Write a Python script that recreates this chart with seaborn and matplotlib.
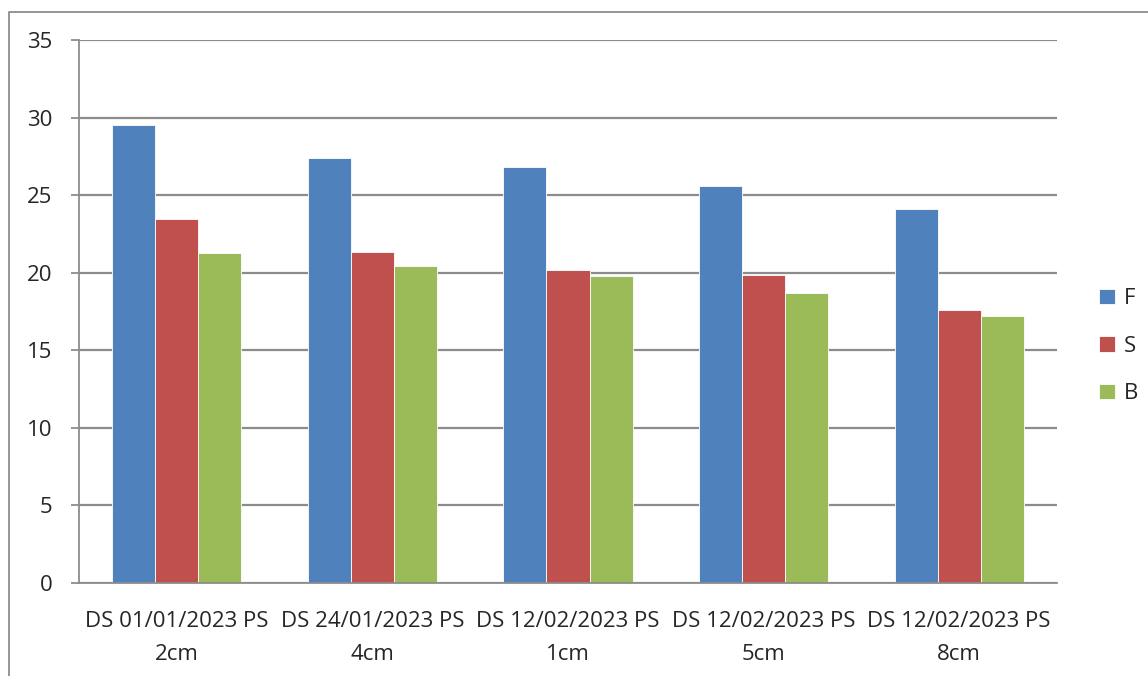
import matplotlib
matplotlib.use("Agg")
import matplotlib.pyplot as plt
from matplotlib.lines import Line2D
import seaborn as sns
import pandas as pd

# Data
categories = ["DS 01/01/2023 PS\n2cm", "DS 24/01/2023 PS\n4cm", "DS 12/02/2023 PS\n1cm",
              "DS 12/02/2023 PS\n5cm", "DS 12/02/2023 PS\n8cm"]
series_names = ["F", "S", "B"]
f_values = [29.55, 27.42, 26.84, 25.58, 24.11]
s_values = [23.45, 21.34, 20.2, 19.88, 17.58]
b_values = [21.3, 20.44, 19.79, 18.68, 17.19]
colors = ["#4F81BD", "#C0504D", "#9BBB59"]
y_ticks = [0, 5, 10, 15, 20, 25, 30, 35]

df = pd.DataFrame({
    "category": categories * 3,
    "series": [series_names[0]] * 5 + [series_names[1]] * 5 + [series_names[2]] * 5,
    "value": f_values + s_values + b_values,
})

sns.set_style("white")
plt.rcParams["font.family"] = ["Open Sans", "DejaVu Sans"]
fs = 16

fig = plt.figure(figsize=(11.48, 6.76), dpi=100)
W, H = 1148, 676
ax = fig.add_axes([79 / W, 1 - 583 / H, (1057 - 79) / W, (583 - 40) / H])

sns.barplot(data=df, x="category", y="value", hue="series", palette=colors,
            width=0.66, gap=0, saturation=1, edgecolor="white", linewidth=0.6, ax=ax)

ax.set_ylim(0, 35)
ax.set_xlim(-0.5, len(categories) - 0.5)
ax.set_yticks(y_ticks)
ax.set_yticklabels([str(t) for t in y_ticks], fontsize=fs)
ax.yaxis.grid(True, color="#8C8C8C", linewidth=1.6)
ax.set_axisbelow(True)

# category labels centred, tick marks at category boundaries
ax.set_xticks(range(len(categories)))
ax.set_xticklabels(categories, fontsize=fs, linespacing=1.75)
ax.tick_params(axis="x", length=0, pad=20)
ax.set_xticks([i - 0.5 for i in range(len(categories) + 1)], minor=True)
ax.tick_params(axis="x", which="minor", length=6, color="#8C8C8C", width=1.3, direction="out")
ax.tick_params(axis="y", length=6, color="#8C8C8C", width=1.3, direction="out", left=True, pad=13)

ax.set_xlabel("")
ax.set_ylabel("")
for side in ["top", "right"]:
    ax.spines[side].set_visible(False)
for side in ["left", "bottom"]:
    ax.spines[side].set_color("#8C8C8C")
    ax.spines[side].set_linewidth(1.3)

leg = ax.legend(loc="center left", bbox_to_anchor=(1.043, 0.436), frameon=False, fontsize=fs,
                borderaxespad=0, borderpad=0, handlelength=0.7, handleheight=0.7,
                labelspacing=1.2, handletextpad=0.4)

# outer chart frame
fig.add_artist(Line2D([9 / W, 9 / W, 1.0], [0.0, 1 - 12 / H, 1 - 12 / H],
                      transform=fig.transFigure, color="#8C8C8C", linewidth=1.3))

fig.savefig("out.png", dpi=100)
